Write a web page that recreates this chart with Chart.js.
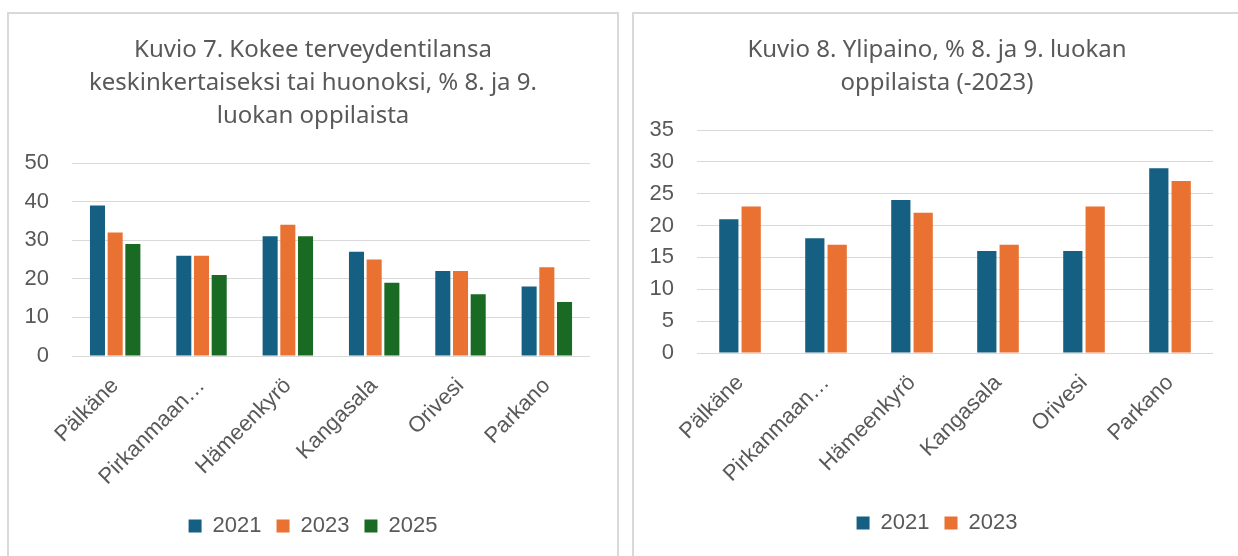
<!DOCTYPE html>
<html>
<head>
<meta charset="utf-8">
<script src="https://cdn.jsdelivr.net/npm/chart.js@4"></script>
<style>
    html, body { margin: 0; padding: 0; background: #ffffff; overflow: hidden; }
    body { width: 1238px; height: 556px; position: relative; }
    .panel {
        position: absolute;
        top: 12px;
        height: 560px;
        border: 2px solid #d9d9d9;
        box-sizing: border-box;
        background: #ffffff;
    }
    .panel canvas { position: absolute; left: 0; top: 0; }
</style>
</head>
<body>
<div class="panel" style="left:7px; width:612px;">
    <canvas id="healthChart" width="608" height="542"></canvas>
</div>
<div class="panel" style="left:632px; width:610px;">
    <canvas id="weightChart" width="606" height="542"></canvas>
</div>
<script>
// --- Data ---
const municipalities = ['Pälkäne', 'Pirkanmaan…', 'Hämeenkyrö', 'Kangasala', 'Orivesi', 'Parkano'];

// Kuvio 7: koettu terveys keskinkertainen tai huono, %
const health2021 = [39, 26, 31, 27, 22, 18];
const health2023 = [32, 26, 34, 25, 22, 23];
const health2025 = [29, 21, 31, 19, 16, 14];
const healthTitle = ['Kuvio 7. Kokee terveydentilansa', 'keskinkertaiseksi tai huonoksi, % 8. ja 9.', 'luokan oppilaista'];
const healthMax = 50;
const healthStep = 10;

// Kuvio 8: ylipaino, %
const weight2021 = [21, 18, 24, 16, 16, 29];
const weight2023 = [23, 17, 22, 17, 23, 27];
const weightTitle = ['Kuvio 8. Ylipaino, % 8. ja 9. luokan', 'oppilaista (-2023)'];
const weightMax = 35;
const weightStep = 5;

const yearLabels = ['2021', '2023', '2025'];
const yearColors = ['#156082', '#E97132', '#196B24'];

const textColor = '#595959';
const gridColor = '#d9d9d9';
const axisFont = { family: 'Liberation Sans, Arial, sans-serif', size: 22 };

function buildOptions(titleLines, maxVal, step, catPct, barPct, padBottom, xHeight) {
    return {
        responsive: false,
        animation: false,
        layout: {
            padding: { left: 0, right: 0, top: 0, bottom: padBottom }
        },
        datasets: {
            bar: {
                categoryPercentage: catPct,
                barPercentage: barPct
            }
        },
        plugins: {
            title: {
                display: true,
                text: titleLines,
                color: textColor,
                font: { family: 'Noto Sans, sans-serif', size: 24, weight: 'normal', lineHeight: 1.375 },
                padding: { top: 20, bottom: 30 }
            },
            legend: {
                position: 'bottom',
                labels: {
                    color: textColor,
                    font: axisFont,
                    boxWidth: 13,
                    boxHeight: 13,
                    padding: 15
                }
            },
            tooltip: { enabled: false }
        },
        scales: {
            x: {
                grid: { display: false },
                border: { display: false },
                ticks: {
                    color: textColor,
                    font: axisFont,
                    minRotation: 45,
                    maxRotation: 45,
                    autoSkip: false,
                    padding: 9
                },
                afterFit: function(scale) { scale.height = xHeight; }
            },
            y: {
                min: 0,
                max: maxVal,
                grid: { color: gridColor, lineWidth: 1, drawTicks: false },
                border: { display: false },
                ticks: {
                    stepSize: step,
                    color: textColor,
                    font: axisFont,
                    padding: 23
                },
                afterFit: function(scale) { scale.width = 63; }
            },
            // empty right-hand margin so the title and legend stay centred in the panel
            yRight: {
                position: 'right',
                grid: { display: false },
                border: { display: false },
                ticks: { display: false },
                afterFit: function(scale) { scale.width = 27; }
            }
        }
    };
}

// --- Kuvio 7 ---
const healthCtx = document.getElementById('healthChart').getContext('2d');
new Chart(healthCtx, {
    type: 'bar',
    data: {
        labels: municipalities,
        datasets: [
            { label: yearLabels[0], data: health2021, backgroundColor: yearColors[0] },
            { label: yearLabels[1], data: health2023, backgroundColor: yearColors[1] },
            { label: yearLabels[2], data: health2025, backgroundColor: yearColors[2] }
        ]
    },
    options: buildOptions(healthTitle, healthMax, healthStep, 0.615, 0.85, 9, 144)
});

// --- Kuvio 8 ---
const weightCtx = document.getElementById('weightChart').getContext('2d');
new Chart(weightCtx, {
    type: 'bar',
    data: {
        labels: municipalities,
        datasets: [
            { label: yearLabels[0], data: weight2021, backgroundColor: yearColors[0] },
            { label: yearLabels[1], data: weight2023, backgroundColor: yearColors[1] }
        ]
    },
    options: buildOptions(weightTitle, weightMax, weightStep, 0.52, 0.86, 12, 144)
});
</script>
</body>
</html>
